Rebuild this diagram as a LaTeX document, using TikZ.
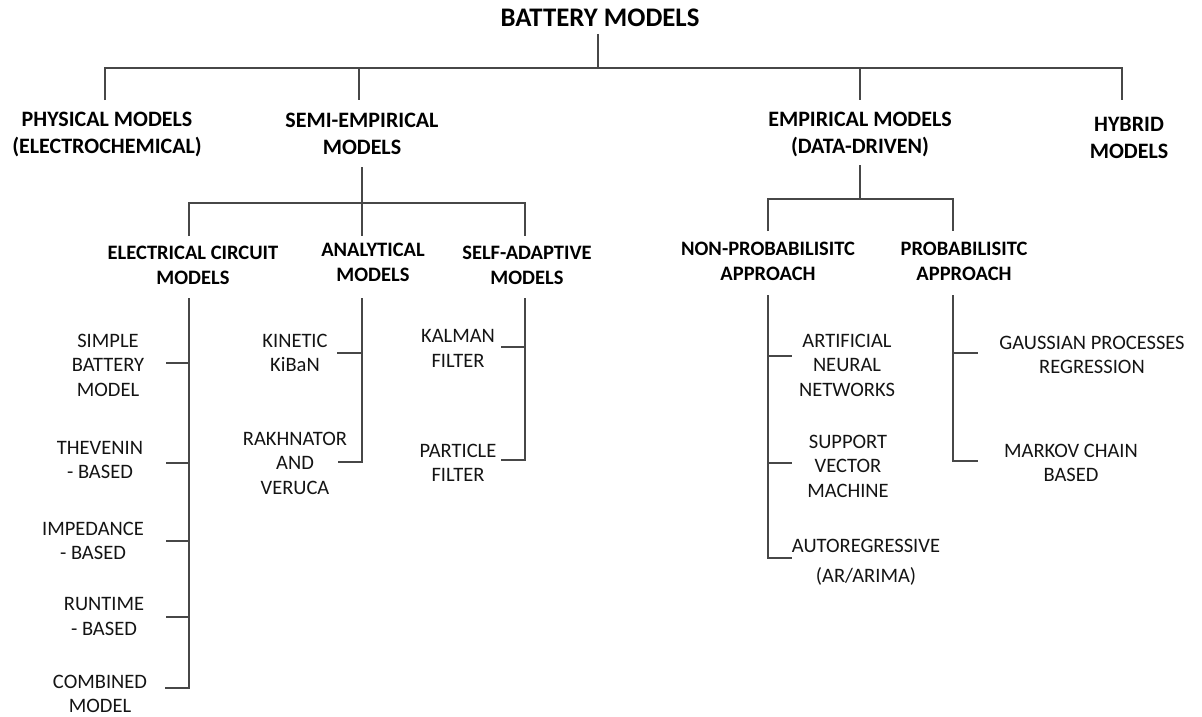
\documentclass[tikz,border=0pt]{standalone}
\usepackage{fontspec}
\setmainfont{Carlito}
\begin{document}
\begin{tikzpicture}[x=1pt,y=-1pt,
  conn/.style={draw=black!72, line width=1.2pt},
  toptitle/.style={font=\bfseries\fontsize{26.8}{30}\selectfont, text=black, inner sep=0pt},
  head/.style={font=\bfseries\fontsize{22}{27}\selectfont, text=black, align=center, inner sep=0pt},
  sub/.style={font=\bfseries\fontsize{20.5}{25}\selectfont, text=black, align=center, inner sep=0pt},
  leaf/.style={font=\fontsize{20.5}{24.5}\selectfont, text=black!92, align=center, inner sep=0pt}]
\useasboundingbox (0,0) rectangle (1202,717);

% ---------- texts ----------
\node[toptitle] (root) at (600,18) {BATTERY MODELS};

\node[head] (phys) at (107,134.5) {PHYSICAL MODELS\\(ELECTROCHEMICAL)};
\node[head] (semi) at (362,133.5) {SEMI-EMPIRICAL\\MODELS};
\node[head] (emp)  at (860,134.5) {EMPIRICAL MODELS\\(DATA-DRIVEN)};
\node[head] (hyb)  at (1129,137.5) {HYBRID\\MODELS};

\node[sub] (ecm) at (193,265)   {ELECTRICAL CIRCUIT\\MODELS};
\node[sub] (ana) at (373,262.5) {ANALYTICAL\\MODELS};
\node[sub] (sad) at (527,265)   {SELF-ADAPTIVE\\MODELS};
\node[sub] (np)  at (768,261)   {NON-PROBABILISITC\\APPROACH};
\node[sub] (pr)  at (964,261)   {PROBABILISITC\\APPROACH};

\node[leaf] (simple) at (108,365)   {SIMPLE\\BATTERY\\MODEL};
\node[leaf] (thev)   at (100,460)   {THEVENIN\\- BASED};
\node[leaf] (imp)    at (93,541)    {IMPEDANCE\\- BASED};
\node[leaf] (run)    at (104,616.5) {RUNTIME\\- BASED};
\node[leaf] (comb)   at (100,694)   {COMBINED\\MODEL};

\node[leaf] (kin) at (295,353) {KINETIC\\KiBaN};
\node[leaf] (rak) at (295,463) {RAKHNATOR\\AND\\VERUCA};

\node[leaf] (kal) at (458,348.5) {KALMAN\\FILTER};
\node[leaf] (par) at (458,463)   {PARTICLE\\FILTER};

\node[leaf] (ann) at (847,365) {ARTIFICIAL\\NEURAL\\NETWORKS};
\node[leaf] (svm) at (848,466) {SUPPORT\\VECTOR\\MACHINE};
\node[leaf] (ar)  at (866,562) {AUTOREGRESSIVE\\[5.5pt](AR/ARIMA)};

\node[leaf] (gpr) at (1092,355) {GAUSSIAN PROCESSES\\REGRESSION};
\node[leaf] (mc)  at (1071,463) {MARKOV CHAIN\\BASED};

% ---------- junction points ----------
% level 0 bus
\coordinate (r0) at (598,34);
\coordinate (r1) at (598,68);
\coordinate (b1) at (105,68);   \coordinate (e1) at (105,100);
\coordinate (b2) at (359,68);   \coordinate (e2) at (359,100);
\coordinate (b3) at (860,68);   \coordinate (e3) at (860,100);
\coordinate (b4) at (1122,68);  \coordinate (e4) at (1122,100);

% semi-empirical bus
\coordinate (s0) at (362,167);
\coordinate (s1) at (362,203);
\coordinate (sb1) at (189,203); \coordinate (se1) at (189,236);
\coordinate (sb3) at (525,203); \coordinate (se3) at (525,236);
\coordinate (se2) at (362,236);

% empirical bus
\coordinate (m0) at (860,165);
\coordinate (m1) at (860,199);
\coordinate (mb1) at (768,199); \coordinate (me1) at (768,231);
\coordinate (mb2) at (953,199); \coordinate (me2) at (953,231);

% ---------- connectors ----------
\draw[conn] (r0) -- (r1);
\draw[conn] (e1) -- (b1) -- (b4) -- (e4);
\draw[conn] (b2) -- (e2);
\draw[conn] (b3) -- (e3);

\draw[conn] (s0) -- (s1);
\draw[conn] (se1) -- (sb1) -- (sb3) -- (se3);
\draw[conn] (s1) -- (se2);

\draw[conn] (m0) -- (m1);
\draw[conn] (me1) -- (mb1) -- (mb2) -- (me2);

% electrical circuit branch
\coordinate (c0) at (189,298);
\coordinate (c1) at (189,363); \coordinate (t1) at (166,363);
\coordinate (c2) at (189,463); \coordinate (t2) at (166,463);
\coordinate (c3) at (189,541); \coordinate (t3) at (166,541);
\coordinate (c4) at (189,617); \coordinate (t4) at (166,617);
\coordinate (c5) at (189,688); \coordinate (t5) at (165,688);
\draw[conn] (c0) -- (c5) -- (t5);
\draw[conn] (c1) -- (t1);
\draw[conn] (c2) -- (t2);
\draw[conn] (c3) -- (t3);
\draw[conn] (c4) -- (t4);

% analytical branch
\coordinate (a0) at (362,298);
\coordinate (a1) at (362,353); \coordinate (at1) at (337,353);
\coordinate (a2) at (362,462); \coordinate (at2) at (338,462);
\draw[conn] (a0) -- (a2) -- (at2);
\draw[conn] (a1) -- (at1);

% self-adaptive branch
\coordinate (d0) at (525,298);
\coordinate (d1) at (525,347); \coordinate (dt1) at (501,347);
\coordinate (d2) at (525,460); \coordinate (dt2) at (501,460);
\draw[conn] (d0) -- (d2) -- (dt2);
\draw[conn] (d1) -- (dt1);

% non-probabilistic branch
\coordinate (n0) at (768,295);
\coordinate (n1) at (768,356); \coordinate (nt1) at (792,356);
\coordinate (n2) at (768,463); \coordinate (nt2) at (792,463);
\coordinate (n3) at (768,558); \coordinate (nt3) at (792,558);
\draw[conn] (n0) -- (n3) -- (nt3);
\draw[conn] (n1) -- (nt1);
\draw[conn] (n2) -- (nt2);

% probabilistic branch
\coordinate (p0) at (953,295);
\coordinate (p1) at (953,353); \coordinate (pt1) at (978,353);
\coordinate (p2) at (953,461); \coordinate (pt2) at (978,461);
\draw[conn] (p0) -- (p2) -- (pt2);
\draw[conn] (p1) -- (pt1);
\end{tikzpicture}
\end{document}
